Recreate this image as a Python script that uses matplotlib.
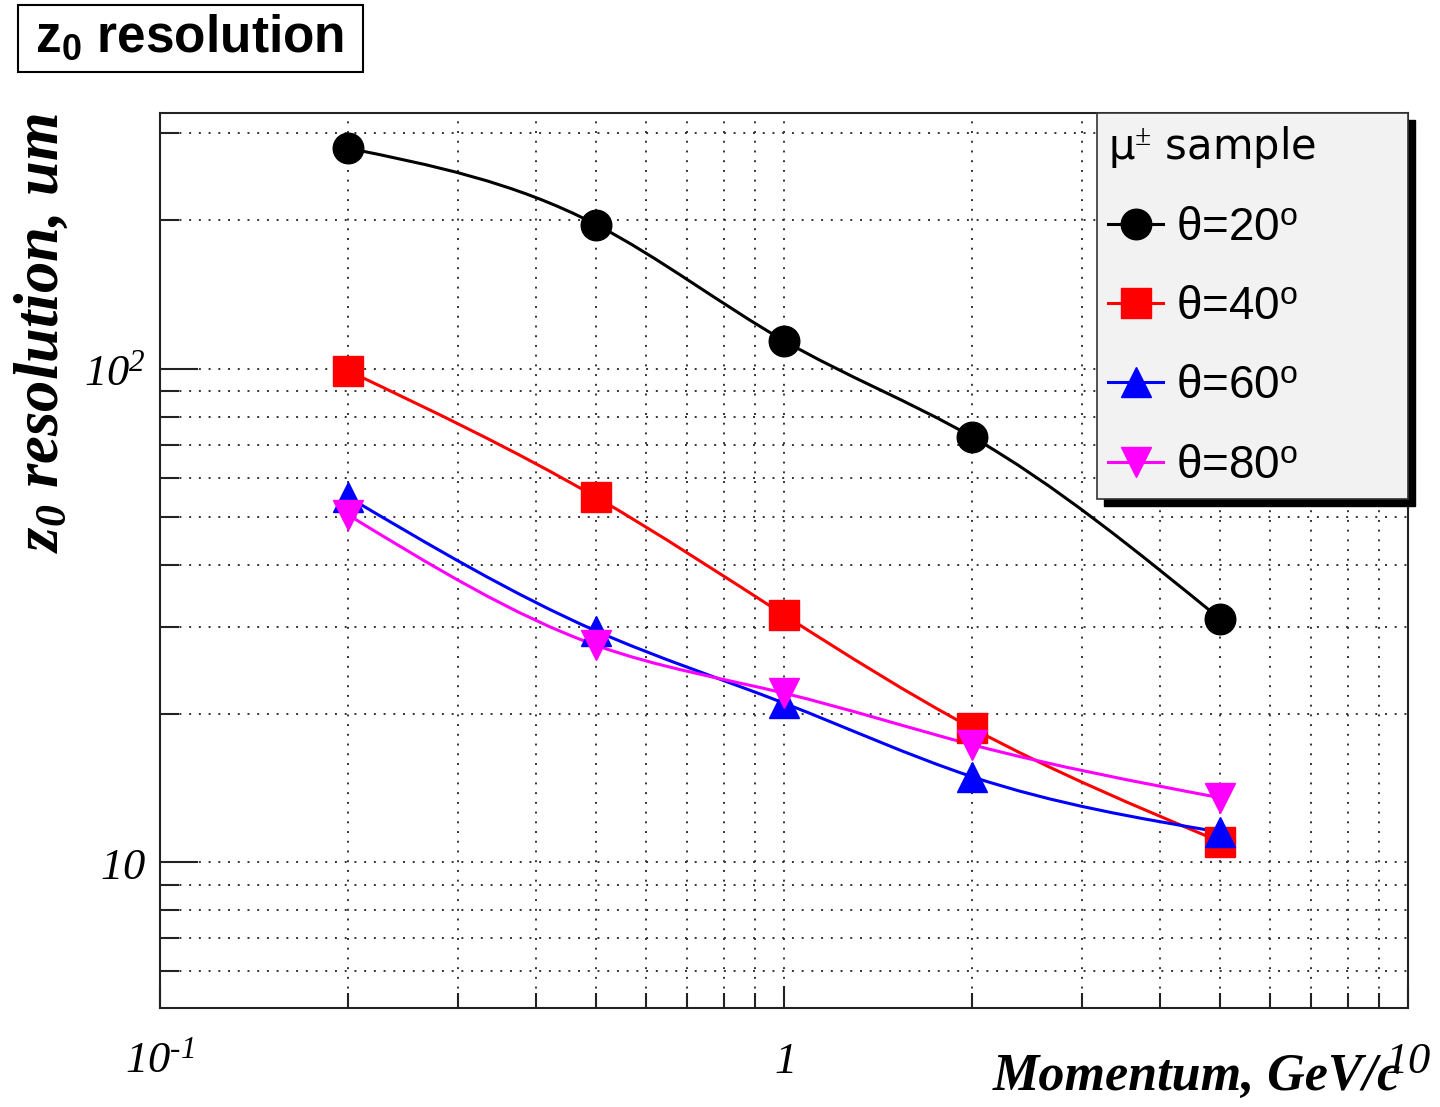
import numpy as np
import matplotlib
matplotlib.use('Agg')
import matplotlib.pyplot as plt
from matplotlib.path import Path
from matplotlib.patches import PathPatch, Rectangle
from matplotlib.lines import Line2D
from matplotlib.ticker import LogLocator, NullFormatter

# values
momentum = [0.2, 0.5, 1.0, 2.0, 5.0]
res_theta20 = [280, 196, 114, 72.8, 31.1]
res_theta40 = [99.1, 54.9, 31.7, 18.7, 11.0]
res_theta60 = [55.0, 29.4, 21.0, 14.9, 11.5]
res_theta80 = [50.6, 27.5, 22.0, 17.3, 13.5]

series = [res_theta20, res_theta40, res_theta60, res_theta80]
series_labels = [r'θ=20$^{\mathsf{o}}$', r'θ=40$^{\mathsf{o}}$',
                 r'θ=60$^{\mathsf{o}}$', r'θ=80$^{\mathsf{o}}$']
series_colors = ['black', '#ff0000', '#0000ff', '#ff00ff']
series_markers = ['o', 's', '^', 'v']

x_ticks = [0.1, 1, 10]
x_tick_labels = [r'$10^{\text{-}1}$', r'$1$', r'$10$']
y_ticks = [10, 100]
y_tick_labels = [r'$10$', r'$10^{2}$']

plt.rcParams['mathtext.fontset'] = 'custom'
plt.rcParams['mathtext.rm'] = 'Liberation Serif:italic'
plt.rcParams['mathtext.it'] = 'Liberation Serif:italic'
plt.rcParams['mathtext.bf'] = 'Liberation Sans:bold'
plt.rcParams['mathtext.bfit'] = 'Liberation Serif:bold:italic'
plt.rcParams['mathtext.sf'] = 'Liberation Sans'


def smooth_path(x, y):
    # natural cubic spline in log-log space (ROOT "C" option look),
    # written as bezier segments between the measured points
    lx = np.log10(x)
    ly = np.log10(y)
    n = len(lx)
    h = np.diff(lx)
    A = np.zeros((n, n))
    b = np.zeros(n)
    A[0, 0] = A[-1, -1] = 1
    for i in range(1, n - 1):
        A[i, i - 1] = h[i - 1]
        A[i, i] = 2 * (h[i - 1] + h[i])
        A[i, i + 1] = h[i]
        b[i] = 6 * ((ly[i + 1] - ly[i]) / h[i] - (ly[i] - ly[i - 1]) / h[i - 1])
    M = np.linalg.solve(A, b)
    verts = [(lx[0], ly[0])]
    codes = [Path.MOVETO]
    for i in range(n - 1):
        s = (ly[i + 1] - ly[i]) / h[i]
        d0 = s - h[i] * (2 * M[i] + M[i + 1]) / 6
        d1 = s + h[i] * (M[i] + 2 * M[i + 1]) / 6
        verts += [(lx[i] + h[i] / 3, ly[i] + d0 * h[i] / 3),
                  (lx[i + 1] - h[i] / 3, ly[i + 1] - d1 * h[i] / 3),
                  (lx[i + 1], ly[i + 1])]
        codes += [Path.CURVE4] * 3
    return Path(10 ** np.array(verts), codes)


def main():
    fig = plt.figure(figsize=(14.4, 11.07), dpi=100)
    ax = fig.add_axes([160 / 1440, 1 - 1008 / 1107, 1248 / 1440, 895 / 1107])
    ax.set_xscale('log')
    ax.set_yscale('log')
    ax.set_xlim(0.1, 10)
    ax.set_ylim(5.06, 330)

    handles = []
    for vals, lab, col, mk in zip(series, series_labels, series_colors, series_markers):
        ax.add_patch(PathPatch(smooth_path(momentum, vals), fill=False,
                               edgecolor=col, lw=2.2, zorder=3))
        ax.plot(momentum, vals, ls='none', marker=mk, ms=22, color=col,
                mec=col, zorder=4)
        handles.append(Line2D([], [], color=col, lw=2.2, marker=mk, ms=22,
                              label=lab))

    ax.set_xticks(x_ticks, labels=x_tick_labels)
    ax.set_yticks(y_ticks, labels=y_tick_labels)
    ax.xaxis.set_minor_locator(LogLocator(base=10, subs=np.arange(2, 10)))
    ax.yaxis.set_minor_locator(LogLocator(base=10, subs=np.arange(2, 10)))
    ax.xaxis.set_minor_formatter(NullFormatter())
    ax.yaxis.set_minor_formatter(NullFormatter())

    ax.tick_params(axis='both', which='both', direction='in', top=False,
                   right=False, width=1.5, color='#222', labelsize=32)
    ax.tick_params(axis='y', which='major', length=27, pad=10)
    ax.tick_params(axis='y', which='minor', length=14)
    ax.tick_params(axis='x', which='major', length=16, pad=22)
    ax.tick_params(axis='x', which='minor', length=11)
    for sp in ax.spines.values():
        sp.set_linewidth(1.5)
        sp.set_color('#222')

    ax.grid(True, which='both', ls=(0, (1, 4)), color='#333', lw=1.4)
    ax.set_axisbelow(True)

    ax.set_xlabel('Momentum, GeV/c', loc='right', fontsize=37.5,
                  family='Liberation Serif', weight='bold', style='italic')
    ax.xaxis.set_label_coords(0.994, -0.05)
    ax.set_ylabel(r'$\mathbfit{z_{0}}$ resolution, um', loc='top', fontsize=45,
                  family='Liberation Serif', weight='bold', style='italic')
    ax.yaxis.set_label_coords(-0.071, 1.0)

    leg = ax.legend(handles=handles, loc='upper left',
                    bbox_to_anchor=(937 / 1248, 0, 311 / 1248, 1.0),
                    mode='expand', borderaxespad=0, borderpad=0.25,
                    handlelength=1.2, handletextpad=0.28, labelspacing=0.77,
                    title=r'μ$^{\pm}$ sample', title_fontsize=30,
                    alignment='left', fancybox=False, framealpha=1,
                    facecolor='#f2f2f2', edgecolor='#333',
                    prop={'family': 'Liberation Sans', 'size': 33})
    leg.get_frame().set_linewidth(1.2)
    leg.set_zorder(6)

    # title box
    fig.patches.append(Rectangle((18 / 1440, 1 - 72 / 1107), 345 / 1440, 67 / 1107,
                                 transform=fig.transFigure, fill=False,
                                 edgecolor='black', lw=1.5))
    fig.text(190 / 1440, 1 - 38 / 1107, r'$\mathbf{z_{0}}$ resolution',
             ha='center', va='center', fontsize=37, family='Liberation Sans',
             weight='bold')

    # black legend shadow, offset down-right
    fig.canvas.draw()
    bb = leg.get_window_extent().transformed(ax.transAxes.inverted())
    dx = 7 / 1248
    dy = 7 / 895
    ax.add_patch(Rectangle((bb.x0 + dx, bb.y0 - dy), bb.width, bb.height,
                           transform=ax.transAxes, clip_on=False,
                           color='black', zorder=5.5))

    fig.savefig('out.png', dpi=100)


if __name__ == "__main__":
    main()
